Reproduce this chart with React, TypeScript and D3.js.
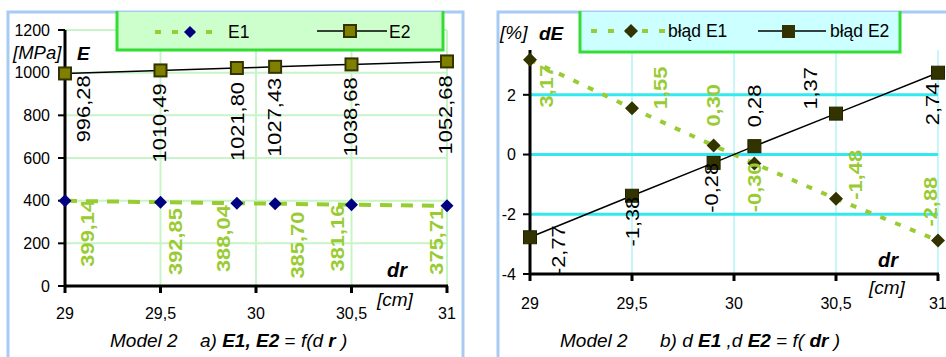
import React, { useEffect, useRef } from 'react';
import * as d3 from 'd3';

// values
const dr = [29, 29.5, 29.9, 30.1, 30.5, 31];
const e1 = [399.14, 392.85, 388.04, 385.7, 381.16, 375.71];
const e2 = [996.28, 1010.49, 1021.8, 1027.43, 1038.68, 1052.68];
const errE1 = [3.17, 1.55, 0.3, -0.3, -1.48, -2.88];
const errE2 = [-2.77, -1.38, -0.28, 0.28, 1.37, 2.74];

const xTicks = [29, 29.5, 30, 30.5, 31];
const xTickLabels = ['29', '29,5', '30', '30,5', '31'];
const eTicks = [0, 200, 400, 600, 800, 1000, 1200];
const errTicks = [-4, -2, 0, 2];
const namesA = ['E1', 'E2'];
const namesB = ['błąd E1', 'błąd E2'];

// label nudges (dx, dy, anchor) relative to each point
type Off = [number, number, string];
const offA1: Off[] = [[22, -1, 'end'], [15, 6, 'end'], [-14, 2, 'end'], [22, 8, 'end'], [-14, 0, 'end'], [-11, 2, 'end']];
const offA2: Off[] = [[18, 2, 'end'], [-1, 13, 'end'], [0, 14, 'end'], [-1, 11, 'end'], [-1, 13, 'end'], [-2, 14, 'end']];
const offB1: Off[] = [[16, 5, 'end'], [28, 1, 'start'], [0, -19, 'start'], [0, -1, 'end'], [19, 1, 'start'], [-8, -14, 'start']];
const offB2: Off[] = [[28, -12, 'end'], [0, 1, 'end'], [-2, 0, 'end'], [0, -19, 'start'], [-26, -4, 'start'], [-6, 10, 'end']];

const FONT = '"Liberation Sans", Arial, sans-serif';
const GREEN = '#99cc33';

const fmt = (v: number) => d3.format('.2f')(v).replace('.', ',').replace('\u2212', '-');

const diamond = (r: number) => `M0,${-r}L${r},0L0,${r}L${-r},0Z`;

function drawLabels(g: any, vals: number[], x: any, y: any, offs: Off[], color: string, bold: boolean) {
  g.append('g').selectAll('text').data(vals).join('text')
    .attr('transform', (d: number, i: number) =>
      `translate(${x(dr[i]) + offs[i][0]},${y(d) + offs[i][1]}) rotate(-90) scale(1.15,1)`)
    .attr('text-anchor', (d: number, i: number) => offs[i][2])
    .attr('dy', '0.36em')
    .attr('font-size', 19)
    .attr('font-weight', bold ? 'bold' : 'normal')
    .attr('fill', color)
    .text((d: number) => fmt(d));
}

function drawFrame(svg: any, x0: number, x1: number) {
  svg.append('rect')
    .attr('x', x0).attr('y', 12).attr('width', x1 - x0).attr('height', 360)
    .attr('fill', 'white').attr('stroke', '#a8cbf3').attr('stroke-width', 3);
}

function drawLegend(svg: any, x0: number, x1: number, y1: number, fill: string) {
  svg.append('rect').attr('x', x0).attr('y', 12).attr('width', x1 - x0).attr('height', y1 - 12)
    .attr('fill', fill);
  svg.append('path')
    .attr('d', `M${x0},11V${y1}H${x1}V11`)
    .attr('fill', 'none').attr('stroke', '#33dd33').attr('stroke-width', 3);
}

function drawPanelA(svg: any) {
  drawFrame(svg, 8, 463);
  const x = d3.scaleLinear().domain([29, 31]).range([65, 447]);
  const y = d3.scaleLinear().domain([0, 1200]).range([286, 30]);
  const g = svg.append('g');

  // grid
  g.selectAll('.vg').data(xTicks.slice(1)).join('line')
    .attr('x1', (d: number) => x(d)).attr('x2', (d: number) => x(d))
    .attr('y1', y(1200)).attr('y2', y(0))
    .attr('stroke', '#c8f5c8').attr('stroke-width', 2);
  g.selectAll('.hg').data(eTicks.slice(1)).join('line')
    .attr('x1', x(29)).attr('x2', x(31))
    .attr('y1', (d: number) => y(d)).attr('y2', (d: number) => y(d))
    .attr('stroke', '#c8f5c8').attr('stroke-width', 2);

  // axes
  g.append('line').attr('x1', x(29)).attr('x2', x(29)).attr('y1', y(1200)).attr('y2', y(0) + 1)
    .attr('stroke', 'black').attr('stroke-width', 3);
  g.append('line').attr('x1', x(29) - 1).attr('x2', x(31) + 1).attr('y1', y(0)).attr('y2', y(0))
    .attr('stroke', 'black').attr('stroke-width', 3);
  g.selectAll('.yt').data(eTicks).join('line')
    .attr('x1', x(29) - 7).attr('x2', x(29)).attr('y1', (d: number) => y(d)).attr('y2', (d: number) => y(d))
    .attr('stroke', 'black').attr('stroke-width', 2);
  g.selectAll('.ytl').data(eTicks).join('text')
    .attr('x', x(29) - 15).attr('y', (d: number) => y(d)).attr('dy', '0.36em')
    .attr('text-anchor', 'end').attr('font-size', 16).text((d: number) => d);
  g.selectAll('.xt').data(xTicks).join('line')
    .attr('x1', (d: number) => x(d)).attr('x2', (d: number) => x(d)).attr('y1', y(0)).attr('y2', y(0) + 7)
    .attr('stroke', 'black').attr('stroke-width', 3);
  g.selectAll('.xtl').data(xTicks).join('text')
    .attr('x', (d: number) => x(d)).attr('y', y(0) + 33)
    .attr('text-anchor', 'middle').attr('font-size', 16)
    .text((d: number, i: number) => xTickLabels[i]);

  // series
  const lineE1 = d3.line<number>().x((d, i) => x(dr[i])).y(d => y(d));
  const lineE2 = d3.line<number>().x((d, i) => x(dr[i])).y(d => y(d)).curve(d3.curveCatmullRom);
  g.append('path').attr('d', lineE1(e1)).attr('fill', 'none')
    .attr('stroke', GREEN).attr('stroke-width', 4).attr('stroke-dasharray', '12,9');
  g.append('path').attr('d', lineE2(e2)).attr('fill', 'none')
    .attr('stroke', 'black').attr('stroke-width', 1.5);
  g.selectAll('.m1').data(e1).join('path')
    .attr('transform', (d: number, i: number) => `translate(${x(dr[i])},${y(d)})`)
    .attr('d', diamond(6.5)).attr('fill', '#000080');
  g.selectAll('.m2').data(e2).join('rect')
    .attr('x', (d: number, i: number) => x(dr[i]) - 6).attr('y', (d: number) => y(d) - 6)
    .attr('width', 12).attr('height', 12)
    .attr('fill', '#808000').attr('stroke', '#333300').attr('stroke-width', 2);

  drawLabels(g, e2, x, y, offA2, 'black', false);
  drawLabels(g, e1, x, y, offA1, GREEN, true);

  // axis titles
  g.append('text').attr('x', 13).attr('y', 59).attr('font-size', 18.5).attr('font-style', 'italic').text('[MPa]');
  g.append('text').attr('x', 77).attr('y', 60).attr('font-size', 19).attr('font-style', 'italic')
    .attr('font-weight', 'bold').text('E');
  g.append('text').attr('x', 387).attr('y', 277).attr('font-size', 20).attr('font-style', 'italic')
    .attr('font-weight', 'bold').text('dr');
  g.append('text').attr('x', 377).attr('y', 306).attr('font-size', 19).attr('font-style', 'italic').text('[cm]');

  // caption
  const cap = g.append('text').attr('y', 347).attr('font-size', 19).attr('font-style', 'italic');
  cap.append('tspan').attr('x', 110).text('Model 2');
  cap.append('tspan').attr('x', 200).text('a)  ');
  cap.append('tspan').attr('font-weight', 'bold').text('E1, E2');
  cap.append('tspan').attr('font-style', 'normal').text(' = ');
  cap.append('tspan').text('f(d ');
  cap.append('tspan').attr('font-weight', 'bold').text('r');
  cap.append('tspan').text(' )');

  // legend
  drawLegend(svg, 117, 443, 50, '#ccffcc');
  const lg = svg.append('g');
  lg.append('line').attr('x1', 155).attr('x2', 222).attr('y1', 32).attr('y2', 32)
    .attr('stroke', GREEN).attr('stroke-width', 4).attr('stroke-dasharray', '6,11');
  lg.append('path').attr('transform', 'translate(190,32)').attr('d', diamond(6)).attr('fill', '#000080');
  lg.append('text').attr('x', 228).attr('y', 38).attr('font-size', 17.5).text(namesA[0]);
  lg.append('line').attr('x1', 317).attr('x2', 387).attr('y1', 31).attr('y2', 31)
    .attr('stroke', 'black').attr('stroke-width', 1.5);
  lg.append('rect').attr('x', 344).attr('y', 25).attr('width', 12).attr('height', 12)
    .attr('fill', '#808000').attr('stroke', '#333300').attr('stroke-width', 2);
  lg.append('text').attr('x', 389).attr('y', 38).attr('font-size', 17.5).text(namesA[1]);
}

function drawPanelB(svg: any) {
  drawFrame(svg, 498, 950);
  const x = d3.scaleLinear().domain([29, 31]).range([530, 938]);
  const y = d3.scaleLinear().domain([-4, 3.5]).range([274, 50]);
  const g = svg.append('g');

  g.selectAll('.vg').data(xTicks.slice(1)).join('line')
    .attr('x1', (d: number) => x(d)).attr('x2', (d: number) => x(d))
    .attr('y1', y(3.5)).attr('y2', y(-4))
    .attr('stroke', '#c4f8f8').attr('stroke-width', 2);
  g.selectAll('.hg').data(errTicks.slice(1)).join('line')
    .attr('x1', x(29)).attr('x2', x(31))
    .attr('y1', (d: number) => y(d)).attr('y2', (d: number) => y(d))
    .attr('stroke', '#33e8ee').attr('stroke-width', 3);

  g.append('line').attr('x1', x(29)).attr('x2', x(29)).attr('y1', y(3.5)).attr('y2', y(-4) + 1)
    .attr('stroke', 'black').attr('stroke-width', 3);
  g.append('line').attr('x1', x(29) - 1).attr('x2', x(31) + 1).attr('y1', y(-4)).attr('y2', y(-4))
    .attr('stroke', 'black').attr('stroke-width', 3);
  g.selectAll('.yt').data(errTicks).join('line')
    .attr('x1', x(29) - 7).attr('x2', x(29)).attr('y1', (d: number) => y(d)).attr('y2', (d: number) => y(d))
    .attr('stroke', 'black').attr('stroke-width', 2);
  g.selectAll('.ytl').data(errTicks).join('text')
    .attr('x', x(29) - 14).attr('y', (d: number) => y(d)).attr('dy', '0.36em')
    .attr('text-anchor', 'end').attr('font-size', 16).text((d: number) => String(d));
  g.selectAll('.xt').data(xTicks).join('line')
    .attr('x1', (d: number) => x(d)).attr('x2', (d: number) => x(d)).attr('y1', y(-4)).attr('y2', y(-4) + 7)
    .attr('stroke', 'black').attr('stroke-width', 3);
  g.selectAll('.xtl').data(xTicks).join('text')
    .attr('x', (d: number) => x(d)).attr('y', y(-4) + 35)
    .attr('text-anchor', 'middle').attr('font-size', 16)
    .text((d: number, i: number) => xTickLabels[i]);

  const line = d3.line<number>().x((d, i) => x(dr[i])).y(d => y(d));
  g.append('path').attr('d', line(errE1)).attr('fill', 'none')
    .attr('stroke', GREEN).attr('stroke-width', 4).attr('stroke-dasharray', '6,10');
  g.append('path').attr('d', line(errE2)).attr('fill', 'none')
    .attr('stroke', 'black').attr('stroke-width', 1.5);
  g.selectAll('.m1').data(errE1).join('path')
    .attr('transform', (d: number, i: number) => `translate(${x(dr[i])},${y(d)})`)
    .attr('d', diamond(7)).attr('fill', '#333300');
  g.selectAll('.m2').data(errE2).join('rect')
    .attr('x', (d: number, i: number) => x(dr[i]) - 6.5).attr('y', (d: number) => y(d) - 6.5)
    .attr('width', 13).attr('height', 13)
    .attr('fill', '#333300').attr('stroke', '#222200').attr('stroke-width', 1);

  drawLabels(g, errE2, x, y, offB2, 'black', false);
  drawLabels(g, errE1, x, y, offB1, GREEN, true);

  g.append('text').attr('x', 500).attr('y', 39).attr('font-size', 19).attr('font-style', 'italic').text('[%]');
  g.append('text').attr('x', 539).attr('y', 40).attr('font-size', 19).attr('font-style', 'italic')
    .attr('font-weight', 'bold').text('dE');
  g.append('text').attr('x', 878).attr('y', 267).attr('font-size', 20).attr('font-style', 'italic')
    .attr('font-weight', 'bold').text('dr');
  g.append('text').attr('x', 869).attr('y', 294).attr('font-size', 19).attr('font-style', 'italic').text('[cm]');

  const cap = g.append('text').attr('y', 347).attr('font-size', 19).attr('font-style', 'italic');
  cap.append('tspan').attr('x', 560).text('Model 2');
  cap.append('tspan').attr('x', 660).text('b)  d ');
  cap.append('tspan').attr('font-weight', 'bold').text('E1');
  cap.append('tspan').text(' ,d ');
  cap.append('tspan').attr('font-weight', 'bold').text('E2');
  cap.append('tspan').attr('font-style', 'normal').text(' = ');
  cap.append('tspan').text('f( ');
  cap.append('tspan').attr('font-weight', 'bold').text('dr');
  cap.append('tspan').text(' )');

  drawLegend(svg, 580, 900, 52, '#ccffff');
  const lg = svg.append('g');
  lg.append('line').attr('x1', 591).attr('x2', 668).attr('y1', 31).attr('y2', 31)
    .attr('stroke', GREEN).attr('stroke-width', 4).attr('stroke-dasharray', '6,11');
  lg.append('path').attr('transform', 'translate(631,31)').attr('d', diamond(7)).attr('fill', '#333300');
  lg.append('text').attr('x', 668).attr('y', 37).attr('font-size', 17.5).text(namesB[0]);
  lg.append('line').attr('x1', 758).attr('x2', 826).attr('y1', 31).attr('y2', 31)
    .attr('stroke', 'black').attr('stroke-width', 1.5);
  lg.append('rect').attr('x', 782).attr('y', 25).attr('width', 13).attr('height', 13).attr('fill', '#333300');
  lg.append('text').attr('x', 830).attr('y', 37).attr('font-size', 17.5).text(namesB[1]);
}

export default function App() {
  const ref = useRef<SVGSVGElement>(null);

  useEffect(() => {
    const svg = d3.select(ref.current);
    svg.selectAll('*').remove();
    drawPanelA(svg);
    drawPanelB(svg);
  }, []);

  return (
    <svg ref={ref} width={946} height={357} fontFamily={FONT}
         style={{ position: 'absolute', left: 0, top: 0, background: 'white' }} />
  );
}
